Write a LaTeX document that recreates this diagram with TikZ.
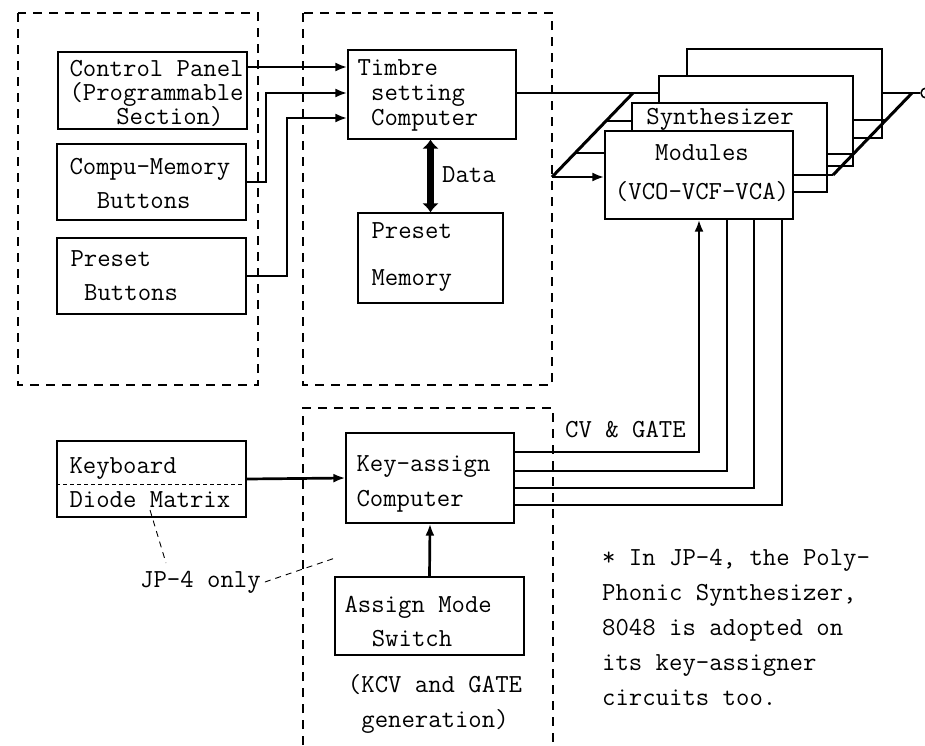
\documentclass[tikz,border=0pt]{standalone}
\usetikzlibrary{arrows.meta}
\begin{document}
\begin{tikzpicture}[x=1pt,y=-1pt,
    box/.style={draw, line width=1.3pt, fill=white, inner sep=0pt},
    txt/.style={inner sep=0pt, align=left, font=\fontsize{26}{34}\selectfont\ttfamily},
    dashframe/.style={line width=1.8pt, dash pattern=on 9pt off 7pt},
    bus/.style={line width=2.7pt},
    slant/.style={line width=3pt},
    arr/.style={-{Latex[length=12pt,width=9pt]}},
    leader/.style={line width=0.9pt, dash pattern=on 6pt off 5pt}]
    \useasboundingbox (0,0) rectangle (925,745);

    % Frames
    \draw[dashframe] (18,13) rectangle (258,385);
    \draw[dashframe] (303,13) rectangle (552,385);
    \draw[dashframe] (303,745) -- (303,408) -- (553,408) -- (553,745);

    % Panel side
    \node[box, minimum width=189pt, minimum height=77pt] (cpanel) at (152.5,90.5) {};
    \node[txt, anchor=west] (cpaneltxt) at ([xshift=12pt,yshift=-3pt]cpanel.west)
        {Control Panel\\[-10pt](Programmable\\[-10pt]\hspace*{1.8em}Section)};
    \node[box, minimum width=189pt, minimum height=76pt] (cmem) at (151.5,182) {};
    \node[txt, anchor=west] (cmemtxt) at ([xshift=13pt,yshift=-1pt]cmem.west)
        {Compu-Memory\\\hspace*{1.05em}Buttons};
    \node[box, minimum width=189pt, minimum height=76pt] (preset) at (151.5,276) {};
    \node[txt, anchor=west] (presettxt) at ([xshift=14pt]preset.west)
        {Preset\\\hspace*{.525em}Buttons};

    % Timbre side
    \node[box, minimum width=168pt, minimum height=89pt] (timbre) at (432,94.5) {};
    \node[txt, anchor=west] (timbretxt) at ([xshift=10pt,yshift=-1pt]timbre.west)
        {Timbre\\[-9pt]\hspace*{.525em}setting\\[-9pt]\hspace*{.525em}Computer};
    \node[box, minimum width=145pt, minimum height=90pt] (pmem) at (430.5,258) {};
    \node[txt, anchor=west] (pmemtxt) at ([xshift=14pt,yshift=1pt]pmem.west)
        {Preset\\[13pt]Memory};
    \node[txt, anchor=west] (datalbl) at (442,175) {Data};

    % Key assign side
    \node[box, minimum width=168pt, minimum height=90pt] (keyassign) at (430,478) {};
    \node[txt, anchor=west] (keyassigntxt) at ([xshift=11pt,yshift=-6pt]keyassign.west)
        {Key-assign\\[1pt]Computer};
    \node[box, minimum width=189pt, minimum height=78pt] (amode) at (429.5,616) {};
    \node[txt, anchor=west] (amodetxt) at ([xshift=10pt,yshift=-6pt]amode.west)
        {Assign Mode\\\hspace*{1.05em}Switch};
    \node[txt, align=center, font=\fontsize{26}{35}\selectfont\ttfamily] (kcvnote) at (435,704)
        {(KCV and GATE\\generation)};
    \node[box, minimum width=189pt, minimum height=76pt] (keyb) at (151.5,479) {};
    \node[txt, anchor=west] (keybtxt) at ([xshift=13pt,yshift=-4pt]keyb.west)
        {Keyboard\\Diode Matrix};
    \node[txt, anchor=west] (jp4) at (140,582) {JP-4 only};

    % Synthesizer modules, back to front
    \node[box, minimum width=195pt, minimum height=89pt] (s4) at (784.5,93.5) {};
    \node[box, minimum width=194pt, minimum height=90pt] (s3) at (756,121) {};
    \node[box, minimum width=195pt, minimum height=89pt] (s2) at (729.5,147.5) {};
    \node[txt] (synlbl) at (720,119) {Synthesizer};
    \node[box, minimum width=188pt, minimum height=88pt] (s1) at (699,175) {};
    \node[txt, align=center] (s1txt) at (702,173) {Modules\\[5pt](VCO-VCF-VCA)};
    \node[circle, draw, line width=1.5pt, minimum size=10pt, inner sep=0pt] (out) at (926,93) {};

    \node[txt, anchor=west] (cvlbl) at (565,430) {CV \& GATE};
    \node[txt, anchor=north west, font=\fontsize{26}{35}\selectfont\ttfamily] (note) at (602,549)
        {* In JP-4, the Poly-\\Phonic Synthesizer,\\8048 is adopted on\\its key-assigner\\circuits too.};

    % Panel to timbre computer
    \draw[bus, arr] (cpanel.east |- 0,67) -- (timbre.west |- 0,67);
    \draw[bus, arr] (cmem.east) -| (266,93) -- (timbre.west |- 0,93);
    \draw[bus, arr] (preset.east) -| (287,118) -- (timbre.west |- 0,118);
    \draw[line width=7pt, {Latex[length=9pt,width=17pt]}-{Latex[length=9pt,width=17pt]}]
        (timbre.south -| pmem.north) -- (pmem.north);

    % Bus into the modules
    \coordinate (inlo) at (552,177);
    \coordinate (inhi) at (633,93);
    \draw[bus] (timbre.east |- inhi) -- (s3.west |- inhi);
    \draw[slant] (inlo) -- (inhi);
    \draw[bus] (606,121) -- (s2.west |- 0,121);
    \draw[bus] (575,153) -- (s1.west |- 0,153);
    \draw[bus, arr] (inlo) -- (s1.west |- inlo);

    % Bus out of the modules
    \coordinate (outlo) at (833,175);
    \coordinate (outhi) at (912,93);
    \draw[slant] (outlo) -- (outhi);
    \draw[bus] (s1.east) -- (outlo);
    \draw[bus] (s2.east |- 0,154) -- (853,154);
    \draw[bus] (s3.east |- 0,120) -- (886,120);
    \draw[bus] (s4.east |- outhi) -- (outhi) -- (out);

    % Key assign to modules
    \draw[bus, arr] (keyb.east) -- (keyassign.west);
    \draw[bus, arr] (amode.north) -- (keyassign.south);
    \draw[bus, arr] (keyassign.east |- 0,452) -| (s1.south -| 699,0);
    \foreach \yy/\xx in {471/727, 488/754, 505/782}
        \draw[bus] (keyassign.east |- 0,\yy) -| (s1.south -| \xx,0);

    % JP-4 notes
    \draw[line width=1pt, dash pattern=on 4pt off 3pt] ([yshift=-5pt]keyb.west) -- ([yshift=-5pt]keyb.east);
    \coordinate (kbpt) at (150,510);
    \coordinate (kapt) at (335,558);
    \draw[leader] (kbpt) -- (166,563);
    \draw[leader] ([xshift=4pt]jp4.east) -- (kapt);
\end{tikzpicture}
\end{document}
